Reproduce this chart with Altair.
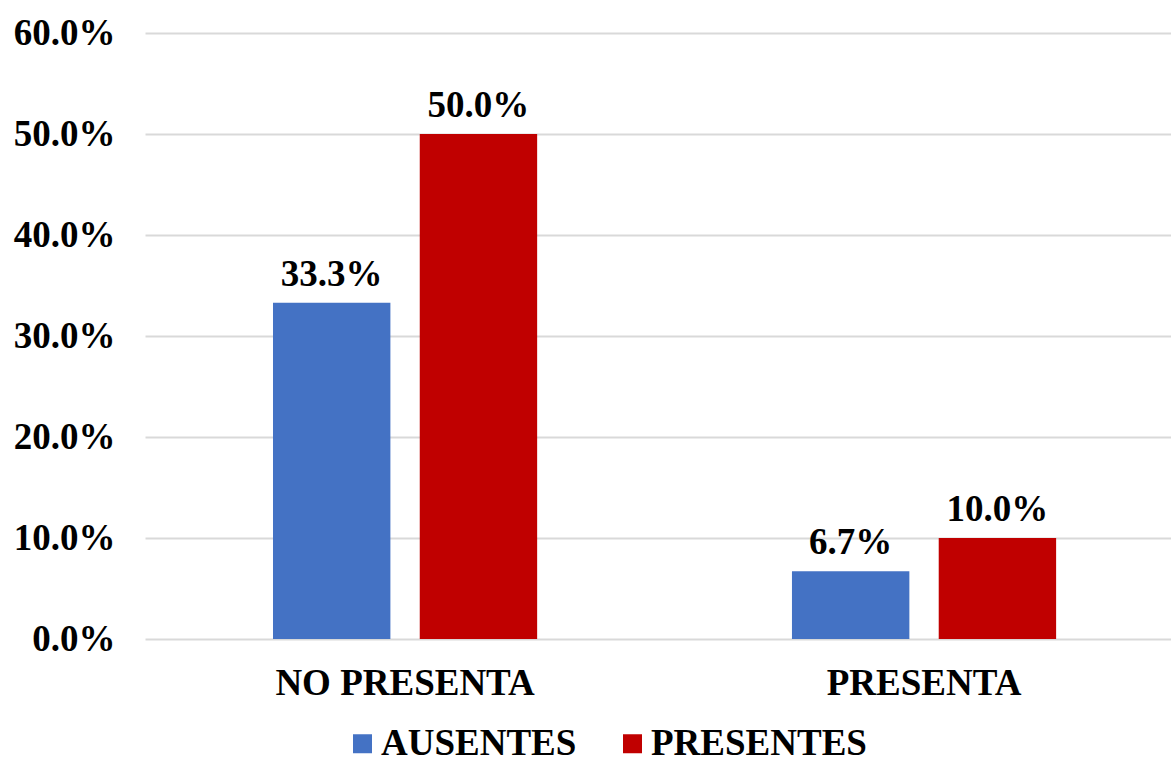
import altair as alt
import pandas as pd

# Categories, series and values
categorias = ["NO PRESENTA", "PRESENTA"]
series = ["AUSENTES", "PRESENTES"]
ausentes = [0.333, 0.067]
presentes = [0.500, 0.100]
colores = ["#4472C4", "#C00000"]
y_ticks = [0.0, 0.1, 0.2, 0.3, 0.4, 0.5, 0.6]

rows = []
for i, cat in enumerate(categorias):
    rows.append({"grupo": cat, "serie": series[0], "valor": ausentes[i]})
    rows.append({"grupo": cat, "serie": series[1], "valor": presentes[i]})
df = pd.DataFrame(rows)

FONT = "Liberation Serif"
FS = 37

x = alt.X(
    "grupo:N",
    sort=categorias,
    scale=alt.Scale(paddingInner=0.491, paddingOuter=0.234, align=0.527),
    axis=alt.Axis(
        title=None, labelAngle=0, labelFont=FONT, labelFontSize=FS,
        labelFontWeight="bold", labelColor="black", labelPadding=26,
        labelLimit=0, ticks=False, domain=False, grid=False,
    ),
)
y = alt.Y(
    "valor:Q",
    scale=alt.Scale(domain=[0, 0.6]),
    axis=alt.Axis(
        title=None, format=".1%", values=y_ticks, labelFont=FONT,
        labelFontSize=FS, labelFontWeight="bold", labelColor="black",
        labelPadding=30, labelLimit=0, grid=True, gridColor="#D9D9D9",
        gridWidth=2, domain=False, ticks=False,
    ),
)
xoff = alt.XOffset("serie:N", sort=series, scale=alt.Scale(paddingInner=0.2, paddingOuter=0))

color = alt.Color(
    "serie:N",
    scale=alt.Scale(domain=series, range=colores),
    legend=alt.Legend(
        orient="none", legendX=199, legendY=692, direction="horizontal",
        padding=0, title=None, symbolType="square", symbolSize=361,
        symbolStrokeWidth=0, labelFont=FONT, labelFontSize=FS,
        labelFontWeight="bold", labelColor="black", labelOffset=0,
        labelLimit=0, columnPadding=37,
    ),
)

bars = alt.Chart(df).mark_bar().encode(x=x, xOffset=xoff, y=y, color=color)

labels = alt.Chart(df).mark_text(
    baseline="alphabetic", dy=-17, font=FONT, fontSize=FS,
    fontWeight="bold", color="black",
).encode(
    x=alt.X("grupo:N", sort=categorias),
    xOffset=alt.XOffset("serie:N", sort=series),
    y="valor:Q",
    text=alt.Text("valor:Q", format=".1%"),
)

chart = (
    alt.layer(bars, labels)
    .properties(
        width=1026, height=606,
        autosize=alt.AutoSizeParams(type="none"),
        padding={"left": 145, "top": 33, "right": 0, "bottom": 119},
        background="white",
    )
    .configure_view(stroke=None)
)

chart.save("out.html", embed_options={"renderer": "svg", "actions": False})
